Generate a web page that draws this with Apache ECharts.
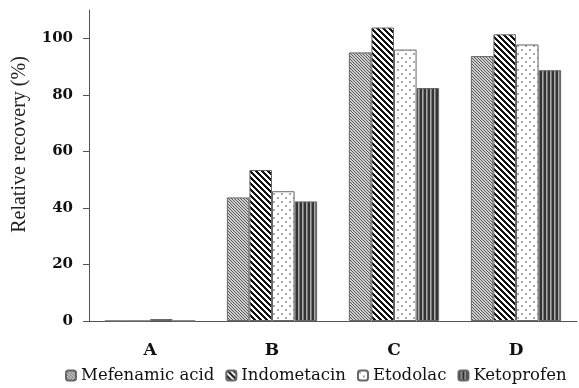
<!DOCTYPE html>
<html>
<head>
<meta charset="utf-8">
<script src="https://cdn.jsdelivr.net/npm/echarts@6/dist/echarts.min.js"></script>
<style>
  html, body { margin: 0; padding: 0; background: #fff; }
  #chart { width: 579px; height: 388px; }
</style>
</head>
<body>
<div id="chart"></div>
<script>
// Relative recovery of four NSAIDs under conditions A-D

const categories = ['A', 'B', 'C', 'D']
const mefenamic = [0, 43.7, 95.0, 93.7]
const indometacin = [0, 53.4, 103.8, 101.4]
const etodolac = [0.7, 45.9, 96.0, 97.8]
const ketoprofen = [0, 42.3, 82.4, 88.7]
const yTicks = [0, 20, 40, 60, 80, 100]

// small canvas tiles used as hatch fills
function tile(w, h, draw) {
  const c = document.createElement('canvas')
  c.width = w
  c.height = h
  const ctx = c.getContext('2d')
  draw(ctx)
  return { image: c, repeat: 'repeat' }
}

const fillMef = tile(3, 3, (ctx) => {
  ctx.fillStyle = '#cfcfcf'
  ctx.fillRect(0, 0, 3, 3)
  ctx.fillStyle = '#5a5a5a'
  for (let i = 0; i < 3; i++) ctx.fillRect(i, i, 1, 1)
})

const fillIndo = tile(6, 6, (ctx) => {
  ctx.fillStyle = '#fff'
  ctx.fillRect(0, 0, 6, 6)
  ctx.fillStyle = '#111'
  for (let y = 0; y < 6; y++) {
    for (let k = 0; k < 3; k++) ctx.fillRect((y + k) % 6, y, 1, 1)
  }
})

const fillEto = tile(8, 8, (ctx) => {
  ctx.fillStyle = '#fff'
  ctx.fillRect(0, 0, 8, 8)
  ctx.fillStyle = '#aaa'
  ctx.fillRect(1, 1, 2, 2)
  ctx.fillRect(5, 5, 2, 2)
})

const fillKeto = tile(4, 4, (ctx) => {
  ctx.fillStyle = '#aaa'
  ctx.fillRect(0, 0, 4, 4)
  ctx.fillStyle = '#333'
  ctx.fillRect(0, 0, 2, 4)
  ctx.fillStyle = '#777'
  ctx.fillRect(3, 0, 1, 4)
})

function bar(name, data, fill) {
  return {
    name: name,
    type: 'bar',
    data: data,
    barGap: '0%',
    barCategoryGap: '26%',
    itemStyle: { color: fill, borderColor: '#666', borderWidth: 1 },
  }
}

const chart = echarts.init(document.getElementById('chart'), null, { renderer: 'canvas' })
chart.setOption({
  animation: false,
  backgroundColor: '#fff',
  grid: { left: 89, right: 2, top: 10, bottom: 67 },
  legend: {
    left: 60,
    top: 362,
    itemWidth: 10,
    itemHeight: 10,
    itemGap: 11,
    textStyle: { fontFamily: 'DejaVu Serif', fontSize: 16.5, color: '#111' },
    data: ['Mefenamic acid', 'Indometacin', 'Etodolac', 'Ketoprofen'],
  },
  xAxis: {
    type: 'category',
    data: categories,
    axisLine: { lineStyle: { color: '#555', width: 1 } },
    axisTick: { length: 6, lineStyle: { color: '#555' } },
    axisLabel: {
      margin: 21,
      fontFamily: 'DejaVu Serif',
      fontWeight: 'bold',
      fontSize: 17,
      color: '#111',
    },
  },
  yAxis: {
    type: 'value',
    min: 0,
    max: 110,
    interval: 10,
    name: 'Relative recovery (%)',
    nameLocation: 'middle',
    nameGap: 59,
    nameTextStyle: {
      fontFamily: 'Liberation Serif',
      fontSize: 20,
      color: '#222',
      padding: [0, 0, 0, 42],
    },
    splitLine: { show: false },
    axisLine: { show: true, lineStyle: { color: '#555', width: 1 } },
    axisTick: { show: true, length: 6, customValues: yTicks, lineStyle: { color: '#555' } },
    axisLabel: {
      customValues: yTicks,
      margin: 16,
      fontFamily: 'DejaVu Serif',
      fontWeight: 'bold',
      fontSize: 15,
      color: '#111',
    },
  },
  series: [
    bar('Mefenamic acid', mefenamic, fillMef),
    bar('Indometacin', indometacin, fillIndo),
    bar('Etodolac', etodolac, fillEto),
    bar('Ketoprofen', ketoprofen, fillKeto),
  ],
})
</script>
</body>
</html>
